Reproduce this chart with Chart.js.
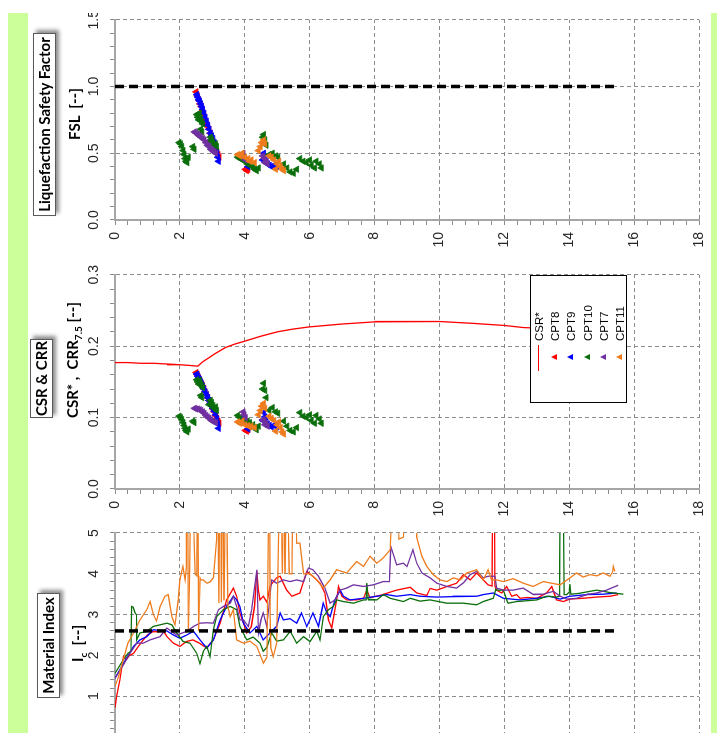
<!DOCTYPE html>
<html lang="en">
<head>
<meta charset="UTF-8">
<title>CPT liquefaction assessment</title>
<script src="https://cdn.jsdelivr.net/npm/chart.js"></script>
<style>
    body { margin: 0; background: #fff; }
    #page { position: relative; width: 717px; height: 733px; overflow: hidden; background: #fff; }
    /* the sheet is laid out upright and turned a quarter turn to the left */
    #sheet {
        position: absolute; left: 0; top: 0; width: 720px; height: 717px; overflow: hidden;
        transform-origin: 0 0; transform: translateY(733px) rotate(-90deg);
    }
    .strip { position: absolute; background: #ccff99; }
    canvas { position: absolute; top: 0; }
    .box {
        position: absolute; box-sizing: border-box; background: #fff; border: 1px solid #5a5a5a;
        box-shadow: 3px 3px 4px rgba(0,0,0,0.45);
        font: bold 15px Lato, "Noto Sans", sans-serif; text-align: center; line-height: 21px; white-space: nowrap;
    }
    .atitle { position: absolute; font: bold 15px Lato, "Noto Sans", sans-serif; line-height: 20px; white-space: nowrap; }
    .atitle sub { font-size: 10px; vertical-align: -4px; line-height: 0; }
    #legend {
        position: absolute; box-sizing: border-box; background: #fff; border: 1px solid #000;
        font: 11.5px "Liberation Sans", Arial, sans-serif;
    }
    #legend .row { position: absolute; left: 0; height: 14px; width: 126px; }
    #legend .txt { position: absolute; left: 61px; top: 0; line-height: 14px; }
    #legend .line { position: absolute; left: 31px; top: 6px; width: 26px; height: 1.3px; }
    #legend .tri { position: absolute; left: 42px; top: 3px; width: 0; height: 0;
        border-left: 3.5px solid transparent; border-right: 3.5px solid transparent; border-bottom: 6px solid; }
</style>
</head>
<body>
<div id="page">
  <div id="sheet">
    <div class="strip" style="left:0;top:8px;width:720px;height:20px"></div>
    <div class="strip" style="left:0;top:711px;width:720px;height:6px"></div>

    <canvas id="icChart"></canvas>
    <canvas id="csrChart"></canvas>
    <canvas id="fslChart"></canvas>

    <div class="box" style="left:35px;top:37px;width:105px;height:23px">Material Index</div>
    <div class="atitle" style="left:71px;top:67px">I<sub>c</sub>&nbsp; [--]</div>

    <div class="box" style="left:315px;top:30px;width:79px;height:23px">CSR &amp; CRR</div>
    <div class="atitle" style="left:315px;top:62px">CSR* ,&nbsp; CRR<sub>7.5</sub> [--]</div>

    <div class="box" style="left:517px;top:33px;width:183px;height:23px">Liquefaction Safety Factor</div>
    <div class="atitle" style="left:559px;top:64px;width:120px;text-align:center">FSL&nbsp; [--]</div>

    <div id="legend" style="left:330px;top:530px;width:128px;height:97px"></div>
  </div>
</div>

<script>
    // ---- series names and colours ----
    const seriesNames = ['CPT8', 'CPT9', 'CPT10', 'CPT7', 'CPT11'];
    const seriesColors = ['#ff0000', '#0000ff', '#0a6e0a', '#7030a0', '#ee7b1c'];

    // ---- thresholds ----
    const thresholdDepth = [0, 15.45];
    const fslThreshold = 1.0;
    const icThreshold = 2.6;

    // ---- CSR* (earthquake demand) ----
    const csrDepth = [0, 0.4, 0.8, 1.2, 1.6, 2.0, 2.3, 2.55, 2.7, 2.9, 3.1, 3.4, 3.7, 4.0, 4.5, 5.0, 5.5, 6.0, 7.0, 8.0, 9.0, 10.0, 11.0, 12.0, 12.6, 13.2, 14.0, 15.5];
    const csrStar = [0.177, 0.177, 0.176, 0.176, 0.175, 0.174, 0.173, 0.172, 0.178, 0.184, 0.190, 0.198, 0.203, 0.207, 0.214, 0.220, 0.224, 0.227, 0.231, 0.234, 0.235, 0.234, 0.232, 0.229, 0.226, 0.225, 0.224, 0.222];

    // ---- liquefiable points: depth, FSL, CRR7.5 ----
    const cpt8LiqDepth = [2.50, 2.54, 2.58, 2.62, 2.66, 2.70, 2.74, 2.78, 2.82, 2.86, 2.90, 2.94, 2.98, 3.02, 3.06, 3.10, 3.14, 3.18, 3.21, 4.02, 4.06, 4.10];
    const cpt8Fsl = [0.96, 0.93, 0.90, 0.87, 0.85, 0.82, 0.79, 0.75, 0.72, 0.70, 0.68, 0.65, 0.62, 0.59, 0.56, 0.53, 0.51, 0.49, 0.47, 0.38, 0.37, 0.38];
    const cpt8Crr = [0.163, 0.160, 0.156, 0.152, 0.148, 0.145, 0.141, 0.136, 0.132, 0.128, 0.124, 0.120, 0.116, 0.112, 0.108, 0.103, 0.099, 0.095, 0.092, 0.082, 0.081, 0.083];

    const cpt9LiqDepth = [2.52, 2.55, 2.58, 2.61, 2.64, 2.67, 2.70, 2.74, 2.78, 2.82, 2.86, 2.90, 2.94, 2.98, 3.02, 3.06, 3.10, 3.14, 3.17, 3.19, 4.05, 4.10, 4.15, 4.55, 4.58, 4.62, 4.66, 4.70, 4.76, 4.82, 4.90, 4.98];
    const cpt9Fsl = [0.94, 0.92, 0.90, 0.89, 0.87, 0.85, 0.83, 0.80, 0.77, 0.74, 0.71, 0.68, 0.65, 0.63, 0.61, 0.58, 0.55, 0.51, 0.47, 0.44, 0.44, 0.40, 0.42, 0.45, 0.50, 0.47, 0.44, 0.42, 0.41, 0.40, 0.41, 0.40];
    const cpt9Crr = [0.161, 0.158, 0.155, 0.153, 0.150, 0.147, 0.144, 0.140, 0.136, 0.132, 0.128, 0.124, 0.120, 0.116, 0.113, 0.109, 0.104, 0.098, 0.091, 0.085, 0.092, 0.084, 0.088, 0.096, 0.107, 0.101, 0.095, 0.091, 0.089, 0.087, 0.089, 0.087];

    const cpt10LiqDepth = [1.98, 2.02, 2.06, 2.10, 2.13, 2.16, 2.19, 2.22, 2.26, 2.40, 2.44,
        2.52, 2.55, 2.58, 2.60, 2.63, 2.66, 2.70, 2.64, 2.68,
        2.90, 2.94, 2.98, 3.02, 3.06, 3.10, 3.13,
        3.78, 3.85, 3.92, 4.00, 4.08, 4.15, 4.25, 4.30, 4.36, 4.42, 4.55, 4.58, 4.62, 4.66,
        4.75, 4.85, 4.95, 5.02, 5.20, 5.30, 5.40, 5.50, 5.60,
        5.70, 5.80, 5.90, 6.00, 6.05, 6.15, 6.20, 6.30, 6.36];
    const cpt10Fsl = [0.58, 0.57, 0.55, 0.52, 0.49, 0.46, 0.44, 0.43, 0.47, 0.55, 0.53,
        0.79, 0.77, 0.75, 0.80, 0.76, 0.74, 0.72, 0.68, 0.66,
        0.59, 0.62, 0.60, 0.58, 0.56, 0.57, 0.55,
        0.47, 0.46, 0.45, 0.44, 0.42, 0.41, 0.40, 0.38, 0.37, 0.39, 0.62, 0.64, 0.60, 0.56,
        0.49, 0.50, 0.48, 0.47, 0.42, 0.39, 0.36, 0.35, 0.38,
        0.46, 0.44, 0.43, 0.45, 0.41, 0.39, 0.44, 0.42, 0.39];
    const cpt10Crr = [0.102, 0.100, 0.097, 0.093, 0.089, 0.085, 0.082, 0.080, 0.084, 0.095, 0.093,
        0.153, 0.150, 0.147, 0.152, 0.148, 0.145, 0.142, 0.131, 0.128,
        0.118, 0.124, 0.121, 0.117, 0.113, 0.115, 0.110,
        0.103, 0.100, 0.099, 0.098, 0.095, 0.093, 0.090, 0.086, 0.083, 0.088, 0.140, 0.148, 0.138, 0.128,
        0.110, 0.114, 0.108, 0.106, 0.095, 0.088, 0.082, 0.080, 0.086,
        0.107, 0.102, 0.100, 0.104, 0.096, 0.092, 0.103, 0.098, 0.092];

    const cpt7LiqDepth = [2.45, 2.50, 2.55, 2.60, 2.65, 2.70, 2.75, 2.80, 2.85, 2.90, 2.95, 3.00, 3.05, 3.10, 3.95, 3.98, 4.02, 4.55, 4.60, 4.62, 4.66, 4.70];
    const cpt7Fsl = [0.66, 0.65, 0.64, 0.63, 0.62, 0.61, 0.60, 0.58, 0.56, 0.55, 0.53, 0.52, 0.51, 0.50, 0.50, 0.47, 0.45, 0.48, 0.46, 0.43, 0.44, 0.42];
    const cpt7Crr = [0.113, 0.112, 0.112, 0.111, 0.110, 0.108, 0.106, 0.103, 0.101, 0.099, 0.097, 0.095, 0.094, 0.093, 0.108, 0.104, 0.100, 0.097, 0.095, 0.090, 0.092, 0.088];

    const cpt11LiqDepth = [3.78, 3.85, 3.92, 4.00, 4.10, 4.15, 4.20, 4.30, 4.42, 4.48, 4.52, 4.58, 4.62, 4.75, 4.82, 4.90, 4.95, 5.00, 5.05, 5.10, 5.15, 5.20];
    const cpt11Fsl = [0.49, 0.48, 0.50, 0.47, 0.46, 0.44, 0.45, 0.43, 0.52, 0.55, 0.58, 0.60, 0.57, 0.48, 0.47, 0.45, 0.38, 0.42, 0.44, 0.40, 0.38, 0.37];
    const cpt11Crr = [0.094, 0.092, 0.095, 0.090, 0.089, 0.087, 0.088, 0.086, 0.104, 0.110, 0.116, 0.120, 0.113, 0.102, 0.099, 0.096, 0.081, 0.090, 0.094, 0.086, 0.080, 0.077];

    // ---- material index Ic profiles ----
    const cpt8IcDepth = [0.00, 0.05, 0.15, 0.26, 0.35, 0.45, 0.57, 0.70, 0.87, 1.00, 1.18, 1.35, 1.49, 1.60, 1.80, 2.00, 2.20, 2.40, 2.60, 2.83,
        3.03, 3.24, 3.44, 3.65, 3.75, 3.85, 3.96, 4.06, 4.20, 4.30, 4.37, 4.42, 4.47, 4.57, 4.68, 4.78, 4.98, 5.09, 5.29, 5.45,
        5.70, 5.91, 6.10, 6.32, 6.47, 6.58, 6.68, 6.83, 6.89, 6.99, 7.14, 7.45, 7.66, 7.76, 7.86, 8.17, 8.48, 8.68, 9.10, 9.30,
        9.61, 9.71, 9.92, 10.23, 10.53, 10.74, 10.95, 11.15, 11.35, 11.50, 11.62, 11.66, 11.68, 11.71, 11.76, 11.92, 12.07, 12.23, 12.38, 12.48,
        12.70, 13.00, 13.30, 13.46, 13.61, 13.82, 14.02, 14.43, 14.85, 15.26, 15.51];
    const cpt8Ic = [0.72, 1.00, 1.40, 1.97, 1.90, 2.00, 2.05, 2.20, 2.38, 2.50, 2.59, 2.58, 2.60, 2.46, 2.30, 2.22, 2.34, 2.38, 2.30, 2.18,
        2.38, 2.79, 3.36, 3.65, 3.45, 3.04, 2.80, 2.55, 2.70, 3.20, 4.06, 3.60, 3.36, 3.45, 3.30, 3.70, 3.90, 3.94, 3.60, 3.45,
        3.53, 4.06, 3.94, 3.77, 3.53, 2.87, 2.67, 3.36, 3.69, 3.45, 3.36, 3.36, 3.40, 3.60, 3.42, 3.47, 3.55, 3.60, 3.67, 3.53,
        3.47, 3.64, 3.60, 3.69, 3.77, 3.98, 3.85, 4.02, 3.85, 3.73, 3.70, 8.00, 8.00, 3.70, 3.60, 3.53, 3.69, 3.45, 3.49, 3.40,
        3.42, 3.40, 3.53, 3.69, 3.36, 3.32, 3.38, 3.40, 3.43, 3.45, 3.49];

    const cpt9IcDepth = [0.00, 0.26, 0.57, 0.77, 0.98, 1.18, 1.39, 1.60, 1.80, 2.00, 2.21, 2.42, 2.62, 2.83, 3.03, 3.24, 3.44, 3.65, 3.75, 3.85,
        3.96, 4.16, 4.37, 4.57, 4.78, 4.98, 5.09, 5.19, 5.40, 5.60, 5.75, 5.91, 6.10, 6.27, 6.42, 6.53, 6.63, 6.78, 6.94, 7.04,
        7.24, 7.66, 8.07, 8.38, 8.68, 9.10, 9.40, 9.92, 10.40, 10.74, 11.15, 11.35, 11.66, 11.97, 12.48, 13.00, 13.40, 13.72, 14.02, 14.54,
        15.05, 15.46];
    const cpt9Ic = [1.44, 1.80, 2.22, 2.38, 2.46, 2.63, 2.61, 2.60, 2.50, 2.42, 2.50, 2.59, 2.38, 2.18, 2.38, 2.87, 3.20, 3.45, 3.36, 3.20,
        2.79, 2.55, 2.71, 2.38, 2.55, 2.71, 3.04, 2.87, 2.90, 2.79, 3.04, 2.71, 3.04, 2.71, 3.28, 3.04, 2.95, 3.36, 3.60, 3.45,
        3.36, 3.40, 3.45, 3.49, 3.45, 3.49, 3.45, 3.43, 3.44, 3.45, 3.45, 3.49, 3.53, 3.40, 3.36, 3.40, 3.45, 3.38, 3.45, 3.49,
        3.50, 3.53];

    const cpt10IcDepth = [0.00, 0.26, 0.40, 0.49, 0.51, 0.56, 0.62, 0.66, 0.67, 0.77, 0.98, 1.18, 1.39, 1.60, 1.75, 1.90, 2.10, 2.31, 2.52, 2.62,
        2.72, 2.83, 2.93, 3.03, 3.13, 3.34, 3.55, 3.75, 3.85, 4.06, 4.26, 4.47, 4.57, 4.68, 4.83, 4.98, 5.19, 5.40, 5.60, 5.81,
        6.01, 6.22, 6.32, 6.42, 6.58, 6.73, 6.83, 7.04, 7.35, 7.66, 7.74, 7.76, 7.80, 8.07, 8.27, 8.48, 8.89, 9.10, 9.40, 9.71,
        10.23, 10.74, 11.15, 11.35, 11.66, 11.74, 11.76, 11.97, 12.10, 12.12, 12.38, 12.70, 13.00, 13.30, 13.60, 13.70, 13.74, 13.80, 13.84, 13.92,
        14.00, 14.02, 14.05, 14.30, 14.64, 14.85, 15.26, 15.67];
    const cpt10Ic = [1.56, 1.90, 2.05, 2.10, 3.20, 3.18, 3.04, 3.00, 2.38, 2.55, 2.59, 2.71, 2.75, 2.79, 2.75, 2.55, 2.34, 2.30, 2.05, 1.80,
        2.10, 2.22, 1.97, 2.63, 2.95, 3.12, 3.20, 3.12, 2.71, 2.38, 2.45, 2.30, 2.10, 2.20, 2.55, 2.35, 2.38, 2.59, 2.30, 2.46,
        2.34, 2.59, 2.38, 2.95, 3.12, 3.20, 3.36, 3.32, 3.28, 3.36, 3.36, 3.77, 3.38, 3.36, 3.49, 3.40, 3.32, 3.40, 3.33, 3.36,
        3.28, 3.28, 3.24, 3.32, 3.40, 3.62, 3.60, 3.60, 3.30, 3.28, 3.32, 3.34, 3.36, 3.45, 3.43, 3.45, 8.00, 8.00, 3.49, 3.49,
        3.55, 3.75, 3.50, 3.52, 3.57, 3.60, 3.54, 3.50];

    const cpt7IcDepth = [0.00, 0.26, 0.46, 0.67, 0.87, 1.08, 1.39, 1.60, 1.90, 2.21, 2.42, 2.62, 2.83, 3.03, 3.19, 3.34, 3.55, 3.65, 3.75, 3.85,
        3.96, 4.11, 4.21, 4.37, 4.42, 4.50, 4.57, 4.68, 4.83, 4.98, 5.19, 5.40, 5.60, 5.81, 5.96, 6.10, 6.27, 6.47, 6.63, 6.78,
        6.94, 7.14, 7.35, 7.66, 7.96, 8.27, 8.46, 8.50, 8.68, 8.89, 9.00, 9.18, 9.30, 9.46, 9.71, 9.92, 10.23, 10.53, 10.74, 10.95,
        11.15, 11.35, 11.50, 11.71, 11.76, 11.97, 12.27, 12.58, 12.90, 13.20, 13.51, 13.72, 13.92, 14.23, 14.54, 14.85, 15.15, 15.51];
    const cpt7Ic = [1.44, 1.77, 2.05, 2.30, 2.30, 2.38, 2.46, 2.67, 2.50, 2.59, 2.71, 2.79, 2.80, 2.79, 3.12, 3.20, 3.28, 3.45, 3.20, 2.87,
        2.87, 2.71, 3.12, 4.10, 2.55, 2.87, 3.04, 2.71, 3.85, 3.77, 3.85, 3.81, 3.85, 3.81, 4.14, 4.10, 3.94, 3.65, 3.28, 3.36,
        3.60, 3.65, 3.73, 3.69, 3.73, 3.81, 3.81, 4.67, 4.22, 4.26, 4.18, 4.59, 4.26, 4.02, 3.90, 3.77, 3.69, 3.65, 3.78, 3.98,
        4.06, 3.90, 3.94, 3.94, 3.65, 3.60, 3.60, 3.65, 3.49, 3.50, 3.57, 3.45, 3.38, 3.40, 3.49, 3.53, 3.60, 3.72];

    const cpt11IcDepth = [0.00, 0.10, 0.26, 0.40, 0.57, 0.77, 0.98, 1.08, 1.18, 1.28, 1.39, 1.54, 1.64, 1.75, 1.85, 1.95, 2.00, 2.09, 2.16, 2.20,
        2.21, 2.24, 2.26, 2.30, 2.35, 2.47, 2.52, 2.55, 2.58, 2.62, 2.65, 2.72, 2.83, 2.93, 3.03, 3.13, 3.16, 3.20, 3.24, 3.28,
        3.32, 3.36, 3.42, 3.48, 3.55, 3.65, 3.75, 3.96, 4.16, 4.37, 4.57, 4.68, 4.76, 4.78, 4.80, 4.88, 4.98, 5.09, 5.16, 5.19,
        5.24, 5.29, 5.37, 5.45, 5.50, 5.60, 5.70, 5.81, 6.01, 6.22, 6.42, 6.63, 6.83, 7.14, 7.45, 7.66, 7.86, 8.07, 8.27, 8.48,
        8.60, 8.75, 8.89, 9.00, 9.20, 9.30, 9.46, 9.61, 9.81, 10.02, 10.23, 10.43, 10.64, 10.84, 11.15, 11.35, 11.50, 11.60, 11.76, 11.97,
        12.27, 12.58, 12.89, 13.20, 13.45, 13.72, 14.02, 14.23, 14.43, 14.64, 14.85, 15.05, 15.26, 15.34, 15.36, 15.41];
    const cpt11Ic = [1.24, 1.45, 1.90, 2.30, 2.55, 2.87, 3.12, 3.32, 3.00, 2.85, 3.20, 3.45, 3.49, 2.95, 2.75, 3.36, 3.85, 4.18, 3.85, 4.15,
        7.00, 7.00, 2.60, 4.00, 7.00, 4.00, 3.95, 7.00, 2.60, 3.90, 3.85, 3.85, 3.77, 3.80, 3.90, 4.84, 7.00, 3.28, 7.00, 3.30,
        7.00, 3.35, 7.00, 3.20, 2.95, 3.12, 2.38, 2.30, 2.35, 2.22, 1.81, 1.95, 7.00, 3.00, 2.20, 1.97, 2.30, 7.00, 4.00, 7.00,
        4.00, 7.00, 4.00, 4.00, 7.00, 4.75, 4.75, 4.00, 4.00, 3.85, 3.65, 3.85, 4.10, 4.02, 4.30, 4.18, 4.43, 4.26, 4.39, 4.59,
        7.00, 4.85, 4.90, 7.00, 7.00, 4.90, 4.43, 4.18, 3.98, 3.85, 3.81, 3.90, 3.85, 4.02, 4.10, 3.85, 4.10, 3.85, 3.85, 3.81,
        3.88, 3.77, 3.69, 3.81, 3.77, 3.73, 3.90, 4.02, 3.92, 3.98, 3.95, 4.02, 3.94, 4.05, 4.18, 4.06];

    // ---- helpers ----
    const GRID = '#8c8c8c';
    const AXIS = '#a6a6a6';
    const tickFont = { family: '"Liberation Sans", Arial, sans-serif', size: 14 };

    function isStep(v, s) {
        return Math.abs(v / s - Math.round(v / s)) < 1e-6;
    }

    function pts(depths, values) {
        return depths.map((d, i) => ({ x: values[i], y: d }));
    }

    function majorGrid(major) {
        return {
            color: c => (!c.tick || isStep(c.tick.value, major)) ? GRID : 'rgba(0,0,0,0)',
            tickColor: GRID,
            tickLength: 5,
            lineWidth: 1
        };
    }

    function valueAxis(min, max, minor, major, digits) {
        return {
            type: 'linear', position: 'top', min: min, max: max,
            afterFit: s => { s.height = 115; },
            ticks: {
                stepSize: minor, autoSkip: false, maxRotation: 0, minRotation: 0, padding: 7,
                color: '#262626', font: tickFont,
                callback: v => isStep(v, major) ? v.toFixed(digits) : ''
            },
            grid: majorGrid(major),
            border: { color: AXIS, width: 2, dash: [4, 3] }
        };
    }

    function depthAxis() {
        return {
            type: 'linear', position: 'left', reverse: true, min: 0, max: 18,
            afterFit: s => { s.width = 45; },
            ticks: {
                stepSize: 0.4, autoSkip: false, padding: 7,
                color: '#262626', font: tickFont,
                callback: v => isStep(v, 2) ? String(Math.round(v)) : ''
            },
            grid: majorGrid(2),
            border: { color: AXIS, width: 2, dash: [4, 3] }
        };
    }

    function thresholdSet(value) {
        return {
            data: pts(thresholdDepth, [value, value]),
            showLine: true, borderColor: '#000', borderWidth: 3.5, borderDash: [9, 5],
            pointRadius: 0, order: 0
        };
    }

    function profileSet(i, depths, values) {
        return {
            label: seriesNames[i],
            data: pts(depths, values),
            showLine: true, borderColor: seriesColors[i], borderWidth: 1.3,
            pointRadius: 0, order: 5 - i
        };
    }

    function markerSet(i, depths, values) {
        return {
            label: seriesNames[i],
            data: pts(depths, values),
            showLine: false, pointStyle: 'triangle', pointRadius: 3.7,
            backgroundColor: seriesColors[i], borderColor: seriesColors[i], borderWidth: 0.8,
            order: 5 - i
        };
    }

    function makePanel(id, left, width, xAxis, datasets) {
        const canvas = document.getElementById(id);
        canvas.width = width + 59;
        canvas.height = 717;
        canvas.style.left = (left - 45) + 'px';
        return new Chart(canvas, {
            type: 'scatter',
            data: { datasets: datasets },
            options: {
                responsive: false,
                animation: false,
                devicePixelRatio: 1,
                layout: { padding: { left: 0, right: 14, top: 0, bottom: 18 } },
                plugins: { legend: { display: false }, tooltip: { enabled: false } },
                scales: { x: xAxis, y: depthAxis() }
            }
        });
    }

    const liqDepths = [cpt8LiqDepth, cpt9LiqDepth, cpt10LiqDepth, cpt7LiqDepth, cpt11LiqDepth];
    const fslValues = [cpt8Fsl, cpt9Fsl, cpt10Fsl, cpt7Fsl, cpt11Fsl];
    const crrValues = [cpt8Crr, cpt9Crr, cpt10Crr, cpt7Crr, cpt11Crr];
    const icDepths = [cpt8IcDepth, cpt9IcDepth, cpt10IcDepth, cpt7IcDepth, cpt11IcDepth];
    const icValues = [cpt8Ic, cpt9Ic, cpt10Ic, cpt7Ic, cpt11Ic];

    // Material index panel
    makePanel('icChart', -4, 204, valueAxis(0, 5, 0.2, 1, 0),
        [thresholdSet(icThreshold)].concat(icDepths.map((d, i) => profileSet(i, d, icValues[i]))));

    // CSR & CRR panel
    makePanel('csrChart', 244, 217, valueAxis(0, 0.3, 0.02, 0.1, 1),
        [{
            label: 'CSR*', data: pts(csrDepth, csrStar), showLine: true,
            borderColor: '#ff0000', borderWidth: 1.3, pointRadius: 0, order: 6
        }].concat(liqDepths.map((d, i) => markerSet(i, d, crrValues[i]))));

    // Safety factor panel
    makePanel('fslChart', 513, 203, valueAxis(0, 1.5, 0.1, 0.5, 1),
        [thresholdSet(fslThreshold)].concat(liqDepths.map((d, i) => markerSet(i, d, fslValues[i]))));

    // legend
    const legend = document.getElementById('legend');
    const entries = [{ name: 'CSR*', color: '#ff0000', line: true }]
        .concat(seriesNames.map((n, i) => ({ name: n, color: seriesColors[i], line: false })));
    entries.forEach((e, i) => {
        const row = document.createElement('div');
        row.className = 'row';
        row.style.top = (1 + i * 16.2) + 'px';
        const mark = document.createElement('div');
        if (e.line) {
            mark.className = 'line';
            mark.style.background = e.color;
        } else {
            mark.className = 'tri';
            mark.style.borderBottomColor = e.color;
        }
        const txt = document.createElement('span');
        txt.className = 'txt';
        txt.textContent = e.name;
        row.appendChild(mark);
        row.appendChild(txt);
        legend.appendChild(row);
    });
</script>
</body>
</html>
